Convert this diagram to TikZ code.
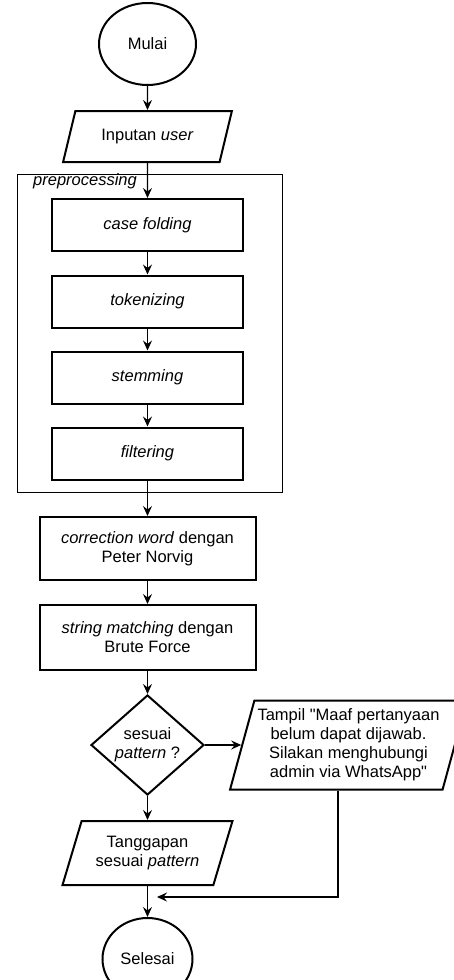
\documentclass[tikz,border=0pt]{standalone}
\usepackage{fontspec}
\setmainfont{Liberation Sans}
\usepackage{tikz}
\usetikzlibrary{shapes.geometric}
\usetikzlibrary{arrows.meta}

\newcommand\straightq{\XeTeXglyph\XeTeXcharglyph"22\relax}

\tikzset{
  proc/.style={draw, line width=2pt, rectangle, align=center, inner sep=2pt},
  io/.style={draw, line width=2pt, trapezium, trapezium stretches=true, align=center, inner sep=0pt},
  term/.style={draw, line width=2pt, ellipse, inner sep=0pt},
  decide/.style={draw, line width=2pt, diamond, aspect=1.13, inner sep=0pt, align=center},
  flow/.style={line width=1.2pt, -{Stealth[length=10pt,width=9pt,inset=3.5pt]}}
}

\begin{document}
\begin{tikzpicture}[x=1pt, y=-1pt, font=\fontsize{16.5}{19}\selectfont]
        \useasboundingbox (0,0) rectangle (454,980);
        \clip (0,0) rectangle (454,980);

        \node[term, minimum width=97pt, minimum height=82pt] (mulai) at (147.5,44) {Mulai};
        \node[io, minimum width=169pt, minimum height=51pt, trapezium left angle=62, trapezium right angle=118] (input) at (147.5,136.5) {Inputan \textit{user}};
        \node[draw, line width=0.9pt, minimum width=265pt, minimum height=318pt] (pre) at (149.5,333) {};
        \node[font=\fontsize{16.5}{19}\selectfont\itshape] (prelabel) at (85,181) {preprocessing};
        \node[proc, minimum width=191pt, minimum height=52pt] (fold) at (147.5,225) {\textit{case folding}};
        \node[proc, minimum width=191pt, minimum height=52pt] (token) at (147.5,301.5) {\textit{tokenizing}};
        \node[proc, minimum width=191pt, minimum height=52pt] (stem) at (147.5,377.5) {\textit{stemming}};
        \node[proc, minimum width=191pt, minimum height=52pt] (filter) at (147.5,453.5) {\textit{filtering}};
        \node[proc, minimum width=216pt, minimum height=63pt] (norvig) at (147.5,548.5) {\textit{correction word} dengan\\Peter Norvig};
        \node[proc, minimum width=216pt, minimum height=65pt] (brute) at (147.5,637.5) {\textit{string matching} dengan\\Brute Force};
        \node[decide, minimum width=113pt, minimum height=100pt] (cek) at (147.5,745) {sesuai\\\textit{pattern} ?};
        \node[io, minimum width=237pt, minimum height=89pt, trapezium left angle=72, trapezium right angle=108] (tampil) at (348.5,745) {Tampil \straightq Maaf pertanyaan\\belum dapat dijawab.\\Silakan menghubungi\\admin via WhatsApp\straightq};
        \node[io, minimum width=170pt, minimum height=64pt, trapezium left angle=66, trapezium right angle=114] (tanggap) at (147.5,853) {Tanggapan\\sesuai \textit{pattern}};
        \node[term, minimum width=90pt, minimum height=82pt] (selesai) at (147.5,959) {Selesai};
        \coordinate (merge) at (157,897);

        \foreach \i/\j in {mulai/input, input/fold, fold/token, token/stem, stem/filter, filter/norvig, norvig/brute, brute/cek, cek/tanggap, tanggap/selesai, cek/tampil}
            \path[flow] (\i) edge (\j);
        \draw[flow] ([xshift=-10.5pt]tampil.south) |- (merge);
\end{tikzpicture}
\end{document}
